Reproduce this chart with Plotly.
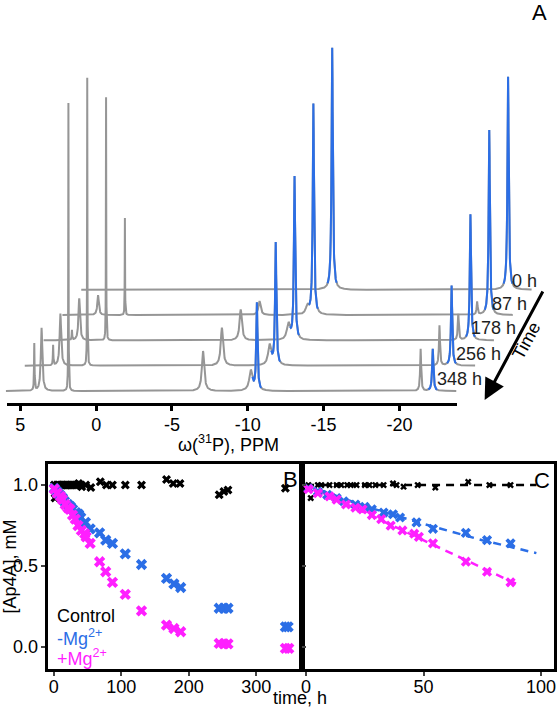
import numpy as np
import plotly.graph_objects as go

# ---------------- Panel A data: 31P NMR spectra ----------------
spectrum_labels = ["0 h", "87 h", "178 h", "256 h", "348 h"]
peak_ppm = [4.08, 3.60, 1.83, -7.05, -10.20, -10.60, -21.40, -22.20]
peak_hwhm = [0.02, 0.06, 0.012, 0.09, 0.12, 0.05, 0.04, 0.05]
ap4a_ppm = [-10.60, -22.20]
heights_0h = [0, 0, 0, 0, 0, 242, 0, 213]
heights_87h = [0, 20, 97, 14, 8, 211, 13, 185]
heights_178h = [10, 42, 243, 31, 16, 163, 26, 126]
heights_256h = [20, 52, 288, 38, 20, 122, 40, 80]
heights_348h = [47, 63, 288, 40, 20, 87, 42, 42]
ppm_ticks = [5, 0, -5, -10, -15, -20]
ppm_first, ppm_last = 5.95, -23.75

# ---------------- Panel B/C data: [Ap4A] vs time ----------------
control_t = [1, 2, 5, 6.5, 10, 13, 15, 17.5, 19, 21.5, 25, 27, 29.5, 33, 37, 38.5, 41.5, 47.5, 55, 69,
             78, 87, 106, 130, 167, 177, 187, 245, 252, 258, 343]
control_v = [1.0, 0.92, 1.0, 1.0, 1.0, 1.0, 1.0, 1.0, 1.0, 1.0, 1.0, 1.0, 1.0, 1.0, 1.01, 1.0, 0.99, 1.0, 0.985, 1.02,
             1.0, 1.0, 1.0, 1.0, 1.035, 1.01, 1.01, 0.94, 0.96, 0.97, 0.98]
minus_t = [1, 5, 9, 13, 16, 21, 25, 28, 33, 37, 40, 47, 54, 68, 77, 87, 106, 130, 167, 178,
           188, 245, 252, 258, 343, 347]
minus_v = [0.98, 0.96, 0.94, 0.92, 0.90, 0.88, 0.866, 0.85, 0.83, 0.82, 0.80, 0.77, 0.73, 0.705, 0.66, 0.64,
           0.575, 0.51, 0.424, 0.39, 0.368, 0.24, 0.24, 0.24, 0.125, 0.125]
plus_t = [1, 5, 10, 13, 17, 21, 24, 28, 32, 36, 41, 46, 48, 54, 68, 77, 87, 106, 130, 167,
          178, 188, 245, 252, 258, 343, 348]
plus_v = [0.975, 0.95, 0.93, 0.91, 0.88, 0.86, 0.85, 0.815, 0.79, 0.75, 0.72, 0.70, 0.68, 0.64, 0.527, 0.465,
          0.40, 0.325, 0.224, 0.136, 0.115, 0.095, 0.023, 0.02, 0.02, -0.008, -0.008]
fit_control_t = [0, 98]
fit_control_v = [1.0, 1.0]
fit_minus_t = [0, 25, 50, 75, 98]
fit_minus_v = [1.0, 0.87, 0.76, 0.66, 0.58]
fit_plus_t = [0, 25, 50, 75, 91]
fit_plus_v = [1.0, 0.83, 0.66, 0.49, 0.38]
panel_c_max_time = 100

# ---------------- styling / layout constants ----------------
W, H = 557, 707
GRAY = "rgb(150,150,150)"
BLUE = "#2b6ee6"
MAGENTA = "#ff1fff"
FONT = "Liberation Sans, Arial, sans-serif"
PX_PER_PPM = 15.3
STACK_DX_PX = 19.0
STACK_DY_PX = 25.3
BASE_Y_PX = 12.0
AX_A_LEFT, AX_A_RIGHT, AX_A_Y = 4, 458, 403


def px(x):
    return x / W


def py(y):
    return 1 - y / H


fig = go.Figure()

# empty trace so the visible ppm axis subplot is created
fig.add_trace(go.Scatter(x=[], y=[], xaxis="x", yaxis="y", showlegend=False, hoverinfo="skip"))

# ----- Panel A spectra (stacked, back trace first) -----
ppm = np.round(np.linspace(ppm_first, ppm_last, int(round((ppm_first - ppm_last) / 0.01)) + 1), 3)
all_heights = [heights_0h, heights_87h, heights_178h, heights_256h, heights_348h]
n = len(all_heights)
for i, hts in enumerate(all_heights):
    depth = n - 1 - i
    inten = np.zeros_like(ppm)
    for c, w, h in zip(peak_ppm, peak_hwhm, hts):
        if h:
            inten += h * w ** 2 / ((ppm - c) ** 2 + w ** 2)
    xs = ppm - depth * STACK_DX_PX / PX_PER_PPM
    ys = inten + BASE_Y_PX + depth * STACK_DY_PX
    fig.add_trace(go.Scatter(x=xs, y=ys, mode="lines", line=dict(color=GRAY, width=2),
                             xaxis="x2", yaxis="y2", showlegend=False, hoverinfo="skip"))
    mask = np.zeros_like(ppm, dtype=bool)
    for c in ap4a_ppm:
        mask |= np.abs(ppm - c) < 0.3
    fig.add_trace(go.Scatter(x=xs, y=np.where(mask, ys, np.nan), mode="lines",
                             line=dict(color=BLUE, width=2), connectgaps=False,
                             xaxis="x2", yaxis="y2", showlegend=False, hoverinfo="skip"))


def upto(ts, vs, tmax):
    keep = [(t, v) for t, v in zip(ts, vs) if t <= tmax]
    return [k[0] for k in keep], [k[1] for k in keep]


# ----- Panels B and C -----
for xa, ya, black_size, col_size, tmax in (("x3", "y3", 8, 10, 1e9), ("x4", "y4", 6, 9, panel_c_max_time)):
    if xa == "x4":
        for ft, fv, col in ((fit_control_t, fit_control_v, "black"),
                            (fit_minus_t, fit_minus_v, BLUE),
                            (fit_plus_t, fit_plus_v, MAGENTA)):
            fig.add_trace(go.Scatter(x=ft, y=fv, mode="lines", xaxis=xa, yaxis=ya,
                                     line=dict(color=col, width=2.5, dash="8px,6px"),
                                     showlegend=False, hoverinfo="skip"))
    for ts, vs, col, sz in ((control_t, control_v, "black", black_size),
                            (minus_t, minus_v, BLUE, col_size),
                            (plus_t, plus_v, MAGENTA, col_size)):
        tt, vv = upto(ts, vs, tmax)
        fig.add_trace(go.Scatter(x=tt, y=vv, mode="markers", xaxis=xa, yaxis=ya,
                                 marker=dict(symbol="x", size=sz, color=col), showlegend=False))

x_left_ppm = 5.0 + (17.5 - AX_A_LEFT) / PX_PER_PPM
x_right_ppm = x_left_ppm - (AX_A_RIGHT - AX_A_LEFT) / PX_PER_PPM
x2_left = x_left_ppm + AX_A_LEFT / PX_PER_PPM
x2_right = x2_left - W / PX_PER_PPM

tickfont = dict(family=FONT, size=18, color="black")
frame = dict(showline=True, linewidth=3, linecolor="black", mirror=True, showgrid=False, zeroline=False)
b_top, b_bot = 464, 669

fig.update_layout(
    width=W, height=H, autosize=False,
    margin=dict(l=0, r=0, t=0, b=0),
    paper_bgcolor="white", plot_bgcolor="rgba(0,0,0,0)",
    font=dict(family=FONT, size=18, color="black"),
    xaxis=dict(domain=[px(AX_A_LEFT), px(AX_A_RIGHT)], range=[x_left_ppm, x_right_ppm], anchor="y",
               showline=True, linewidth=3, linecolor="black", showgrid=False, zeroline=False,
               tickvals=ppm_ticks, ticktext=[str(v) for v in ppm_ticks], ticks="outside",
               ticklen=5, tickwidth=3, tickcolor="black", tickfont=tickfont, ticklabelstandoff=-2),
    yaxis=dict(domain=[py(AX_A_Y), 1], range=[0, AX_A_Y], visible=False, anchor="x"),
    xaxis2=dict(domain=[0, 1], range=[x2_left, x2_right], visible=False, anchor="y2"),
    yaxis2=dict(domain=[py(AX_A_Y), 1], range=[0, AX_A_Y], visible=False, anchor="x2"),
    xaxis3=dict(domain=[px(45), px(302)], range=[-9, 368], anchor="y3", tickvals=[0, 100, 200, 300],
                ticks="outside", ticklen=4, tickwidth=2, tickfont=tickfont, ticklabelstandoff=-5, **frame),
    yaxis3=dict(domain=[py(b_bot), py(b_top)], range=[-0.135, 1.13], anchor="x3",
                tickvals=[0, 0.5, 1.0], ticktext=["0.0", "0.5", "1.0"], ticks="outside",
                ticklen=4, tickwidth=2, tickfont=tickfont, ticklabelstandoff=-1,
                title=dict(text="[Ap4A], mM", font=dict(size=18), standoff=0), **frame),
    xaxis4=dict(domain=[px(302), px(556)], range=[-1.6, 105.5], anchor="y4", tickvals=[0, 50, 100],
                ticks="outside", ticklen=4, tickwidth=2, tickfont=tickfont, ticklabelstandoff=-5, **frame),
    yaxis4=dict(domain=[py(b_bot), py(b_top)], range=[-0.135, 1.13], anchor="x4",
                tickvals=[0, 0.5, 1.0], showticklabels=False, ticks="inside",
                ticklen=4, tickwidth=2, **frame),
)


def note(text, x, y, size=18, color="black", xanchor="center", **kw):
    return dict(text=text, x=px(x), y=py(y), xref="paper", yref="paper", showarrow=False,
                xanchor=xanchor, yanchor="middle", font=dict(size=size, color=color), **kw)


ann = []
label_pos = [(526, 281), (511, 304), (495, 328), (480, 354), (461, 379)]
for lab, (lx, ly) in zip(spectrum_labels, label_pos):
    ann.append(note(lab, lx, ly, color="rgb(30,30,30)"))
ann += [
    note("A", 541, 12, size=22),
    note("B", 290, 479, size=22),
    note("C", 544, 480, size=22),
    note("ω(<sup>31</sup>P), PPM", 228, 443),
    dict(text="", x=px(486), y=py(400), xref="paper", yref="paper", showarrow=True, axref="pixel",
         ayref="pixel", ax=59, ay=-110, arrowhead=2, arrowsize=1.4, arrowwidth=3, arrowcolor="black"),
    note("Time", 528, 341, textangle=-61.5),
    note("time, h", 300, 698),
    note("Control", 52, 616, xanchor="left"),
    note("-Mg<sup>2+</sup>", 52, 637, color=BLUE, xanchor="left"),
    note("+Mg<sup>2+</sup>", 52, 657, color=MAGENTA, xanchor="left"),
]
fig.update_layout(annotations=ann)

fig.write_html("out.html", config={"displayModeBar": False},
               post_script="document.body.style.margin='0px';")
